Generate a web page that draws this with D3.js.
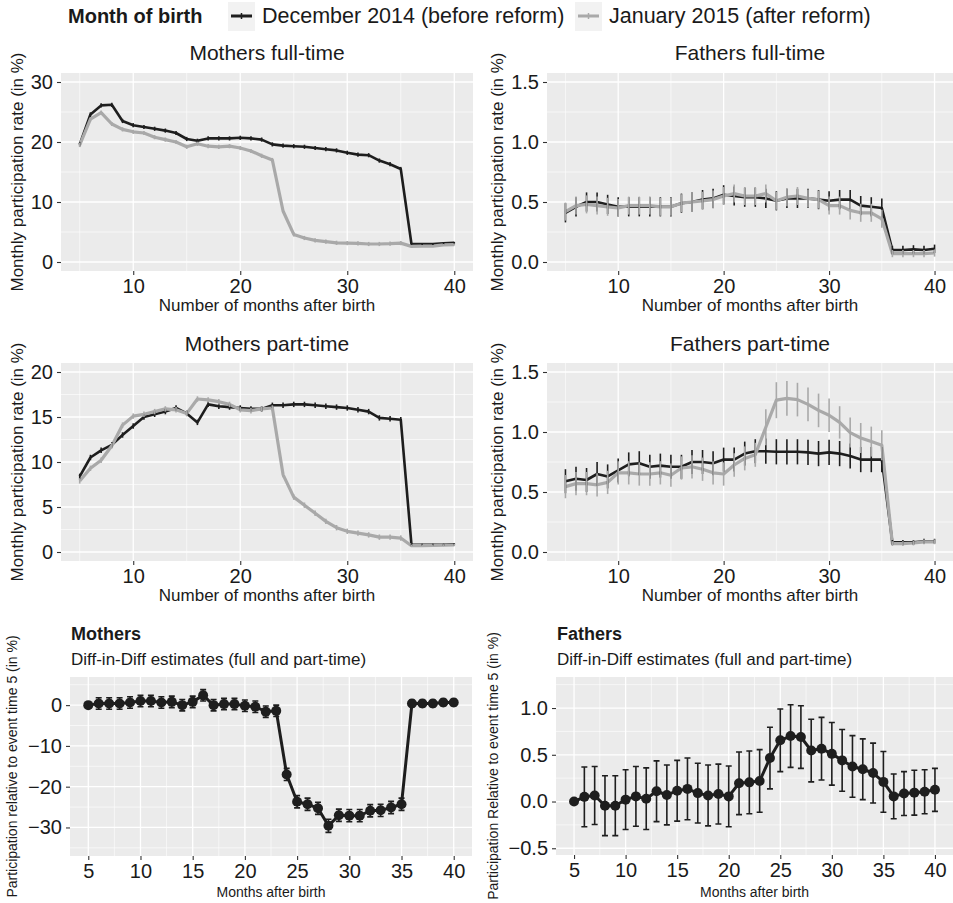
<!DOCTYPE html>
<html>
<head>
<meta charset="UTF-8">
<title>Parental leave participation by month of birth</title>
<style>
  body { margin: 0; background: #fff; }
  svg { display: block; font-family: "Liberation Sans", Arial, Helvetica, sans-serif; }
</style>
</head>
<body>
<svg></svg>
<script src="https://d3js.org/d3.v7.min.js"></script>
<script>

const width = 953, height = 903;

// ---- data ----
const months = [5, 6, 7, 8, 9, 10, 11, 12, 13, 14, 15, 16, 17, 18, 19, 20, 21, 22,
                23, 24, 25, 26, 27, 28, 29, 30, 31, 32, 33, 34, 35, 36, 37, 38, 39, 40];

const seriesNames = ["December 2014 (before reform)", "January 2015 (after reform)"];

// Mothers full-time
const momFullDec = [19.6, 24.6, 26.1, 26.2, 23.5, 22.8, 22.5, 22.2, 21.9, 21.5, 20.5, 20.2, 20.6, 20.6, 20.6, 20.7, 20.6, 20.4,
                    19.6, 19.4, 19.3, 19.2, 19.0, 18.8, 18.6, 18.2, 17.9, 17.8, 16.9, 16.3, 15.5, 3.0, 3.0, 3.0, 3.1, 3.2];
const momFullJan = [19.5, 23.8, 24.9, 23.0, 22.1, 21.7, 21.5, 20.8, 20.4, 20.0, 19.2, 19.7, 19.3, 19.2, 19.3, 19.0, 18.5, 17.7,
                    17.0, 8.5, 4.6, 4.0, 3.6, 3.4, 3.2, 3.15, 3.1, 3.0, 3.0, 3.05, 3.15, 2.6, 2.65, 2.65, 2.85, 2.9];
const momFullSe  = [0.35, 0.35, 0.35, 0.35, 0.35, 0.35, 0.35, 0.35, 0.35, 0.35, 0.35, 0.35, 0.35, 0.35, 0.35, 0.35, 0.35, 0.35,
                    0.35, 0.35, 0.35, 0.35, 0.35, 0.35, 0.35, 0.35, 0.35, 0.35, 0.35, 0.35, 0.35, 0.15, 0.15, 0.15, 0.15, 0.15];

// Fathers full-time
const dadFullDec = [0.41, 0.46, 0.50, 0.50, 0.48, 0.46, 0.46, 0.46, 0.46, 0.46, 0.46, 0.49, 0.50, 0.52, 0.53, 0.56, 0.55, 0.54,
                    0.54, 0.53, 0.51, 0.53, 0.53, 0.53, 0.52, 0.51, 0.52, 0.52, 0.47, 0.46, 0.45, 0.10, 0.10, 0.105, 0.10, 0.11];
const dadFullJan = [0.42, 0.47, 0.48, 0.47, 0.46, 0.45, 0.47, 0.47, 0.47, 0.46, 0.46, 0.49, 0.50, 0.51, 0.52, 0.55, 0.57, 0.55,
                    0.55, 0.57, 0.51, 0.54, 0.55, 0.53, 0.52, 0.47, 0.47, 0.43, 0.41, 0.41, 0.36, 0.07, 0.07, 0.07, 0.07, 0.075];
const dadFullDecSe = [0.08, 0.08, 0.08, 0.08, 0.08, 0.08, 0.08, 0.08, 0.08, 0.08, 0.08, 0.08, 0.08, 0.08, 0.08, 0.08, 0.08, 0.08,
                      0.08, 0.08, 0.08, 0.08, 0.08, 0.08, 0.08, 0.08, 0.08, 0.08, 0.08, 0.08, 0.08, 0.035, 0.035, 0.035, 0.035, 0.035];
const dadFullJanSe = [0.075, 0.075, 0.075, 0.075, 0.075, 0.075, 0.075, 0.075, 0.075, 0.075, 0.075, 0.075, 0.075, 0.075, 0.075, 0.075, 0.075, 0.075,
                      0.075, 0.075, 0.075, 0.075, 0.075, 0.075, 0.075, 0.075, 0.075, 0.075, 0.075, 0.075, 0.075, 0.03, 0.03, 0.03, 0.03, 0.03];

// Mothers part-time
const momPartDec = [8.4, 10.5, 11.3, 11.9, 13.0, 14.0, 15.0, 15.3, 15.6, 16.0, 15.4, 14.4, 16.4, 16.2, 16.1, 16.0, 15.9, 15.9,
                    16.3, 16.3, 16.4, 16.4, 16.3, 16.2, 16.1, 16.0, 15.8, 15.6, 14.9, 14.8, 14.7, 0.8, 0.8, 0.8, 0.8, 0.85];
const momPartJan = [7.9, 9.3, 10.2, 11.8, 14.1, 15.1, 15.3, 15.6, 15.9, 15.8, 15.4, 17.0, 16.9, 16.7, 16.4, 15.8, 15.7, 15.9,
                    16.0, 8.6, 6.1, 5.2, 4.3, 3.4, 2.7, 2.3, 2.1, 1.9, 1.65, 1.65, 1.55, 0.7, 0.7, 0.72, 0.75, 0.78];
const momPartSe  = [0.3, 0.3, 0.3, 0.3, 0.3, 0.3, 0.3, 0.3, 0.3, 0.3, 0.3, 0.3, 0.3, 0.3, 0.3, 0.3, 0.3, 0.3,
                    0.3, 0.3, 0.3, 0.3, 0.3, 0.3, 0.3, 0.3, 0.3, 0.3, 0.3, 0.3, 0.3, 0.12, 0.12, 0.12, 0.12, 0.12];

// Fathers part-time
const dadPartDec = [0.59, 0.61, 0.60, 0.65, 0.63, 0.68, 0.73, 0.74, 0.71, 0.72, 0.71, 0.71, 0.75, 0.75, 0.74, 0.77, 0.77, 0.82,
                    0.84, 0.84, 0.835, 0.835, 0.835, 0.83, 0.82, 0.83, 0.82, 0.80, 0.77, 0.77, 0.77, 0.08, 0.08, 0.08, 0.09, 0.09];
const dadPartJan = [0.545, 0.57, 0.57, 0.56, 0.58, 0.66, 0.66, 0.65, 0.65, 0.66, 0.64, 0.70, 0.71, 0.69, 0.66, 0.65, 0.725, 0.78,
                    0.81, 1.04, 1.265, 1.28, 1.27, 1.23, 1.18, 1.14, 1.08, 0.995, 0.95, 0.92, 0.89, 0.07, 0.07, 0.075, 0.085, 0.085];
const dadPartDecSe = [0.1, 0.1, 0.1, 0.1, 0.1, 0.1, 0.1, 0.1, 0.1, 0.1, 0.1, 0.1, 0.1, 0.1, 0.1, 0.1, 0.1, 0.1,
                      0.1, 0.105, 0.105, 0.105, 0.105, 0.105, 0.105, 0.105, 0.105, 0.105, 0.105, 0.105, 0.105, 0.02, 0.02, 0.02, 0.02, 0.02];
const dadPartJanSe = [0.097, 0.097, 0.097, 0.097, 0.097, 0.097, 0.097, 0.097, 0.097, 0.097, 0.097, 0.097, 0.097, 0.097, 0.097, 0.097, 0.097, 0.1,
                      0.1, 0.15, 0.15, 0.145, 0.14, 0.14, 0.14, 0.14, 0.135, 0.125, 0.125, 0.125, 0.125, 0.02, 0.02, 0.02, 0.02, 0.02];

// Diff-in-diff estimates
const momDid   = [0, 0.4, 0.4, 0.4, 0.65, 1.0, 1.0, 0.65, 0.8, 0, 0.8, 2.4, 0, 0.25, 0.25, -0.15, -0.4, -1.6,
                  -1.4, -17.0, -23.7, -24.3, -25.3, -29.6, -27.0, -27.1, -27.1, -25.9, -25.8, -25.1, -24.3, 0.4, 0.4, 0.4, 0.65, 0.65];
const momDidSe = [0, 1.4, 1.4, 1.4, 1.4, 1.4, 1.4, 1.4, 1.4, 1.4, 1.4, 1.4, 1.4, 1.4, 1.4, 1.4, 1.4, 1.4,
                  1.4, 1.5, 1.5, 1.5, 1.5, 1.6, 1.5, 1.5, 1.5, 1.5, 1.5, 1.5, 1.5, 0.8, 0.8, 0.8, 0.8, 0.8];
const dadDid   = [0.0, 0.05, 0.065, -0.045, -0.045, 0.02, 0.055, 0.03, 0.11, 0.07, 0.115, 0.135, 0.09, 0.065, 0.08, 0.055, 0.195, 0.205,
                  0.22, 0.465, 0.655, 0.70, 0.69, 0.545, 0.565, 0.51, 0.44, 0.375, 0.345, 0.305, 0.21, 0.055, 0.085, 0.095, 0.105, 0.125];
const dadDidSe = [0, 0.32, 0.31, 0.32, 0.32, 0.32, 0.32, 0.33, 0.325, 0.32, 0.325, 0.33, 0.32, 0.325, 0.32, 0.325, 0.335, 0.335,
                  0.335, 0.33, 0.335, 0.335, 0.335, 0.335, 0.335, 0.335, 0.33, 0.33, 0.325, 0.32, 0.325, 0.24, 0.235, 0.24, 0.235, 0.23];

// ---- style ----
const darkCol = "#1e1e1e", lightCol = "#a9a9a9";
const panelBg = "#ebebeb";

let svg = d3.select("svg")
  .attr("width", width)
  .attr("height", height)
  .attr("viewBox", "0 0 " + width + " " + height);

// draws background, grid, axes and titles; returns the scales
function drawPanel(p) {
  const g = svg.append("g");
  const x = d3.scaleLinear().domain(p.xDomain).range([p.left, p.right]);
  const y = d3.scaleLinear().domain(p.yDomain).range([p.bottom, p.top]);

  g.append("rect")
    .attr("x", p.left).attr("y", p.top)
    .attr("width", p.right - p.left).attr("height", p.bottom - p.top)
    .attr("fill", panelBg);

  // minor grid = midpoints between major breaks (plus one step outside)
  const minor = (ticks, dom) => {
    const step = ticks[1] - ticks[0];
    const out = [];
    for (let i = -1; i < ticks.length; i++) {
      const v = ticks[0] + step * (i + 0.5);
      if (v > dom[0] && v < dom[1]) out.push(v);
    }
    return out;
  };
  const xMin = minor(p.xTicks, p.xDomain), yMin = minor(p.yTicks, p.yDomain);

  g.selectAll(".vminor").data(xMin).enter().append("line")
    .attr("x1", d => x(d)).attr("x2", d => x(d)).attr("y1", p.top).attr("y2", p.bottom)
    .attr("stroke", "#fff").attr("stroke-width", 0.6);
  g.selectAll(".hminor").data(yMin).enter().append("line")
    .attr("y1", d => y(d)).attr("y2", d => y(d)).attr("x1", p.left).attr("x2", p.right)
    .attr("stroke", "#fff").attr("stroke-width", 0.6);
  g.selectAll(".vmajor").data(p.xTicks).enter().append("line")
    .attr("x1", d => x(d)).attr("x2", d => x(d)).attr("y1", p.top).attr("y2", p.bottom)
    .attr("stroke", "#fff").attr("stroke-width", 1.3);
  g.selectAll(".hmajor").data(p.yTicks).enter().append("line")
    .attr("y1", d => y(d)).attr("y2", d => y(d)).attr("x1", p.left).attr("x2", p.right)
    .attr("stroke", "#fff").attr("stroke-width", 1.3);

  const xAxis = g.append("g")
    .attr("transform", "translate(0," + p.bottom + ")")
    .call(d3.axisBottom(x).tickValues(p.xTicks).tickSize(4).tickPadding(4).tickFormat(d3.format("d")));
  const yAxis = g.append("g")
    .attr("transform", "translate(" + p.left + ",0)")
    .call(d3.axisLeft(y).tickValues(p.yTicks).tickSize(4).tickPadding(4).tickFormat(d3.format(p.yFormat)));
  [xAxis, yAxis].forEach(a => {
    a.select(".domain").remove();
    a.selectAll(".tick line").attr("stroke", "#333").attr("stroke-width", 1.1);
    a.selectAll(".tick text")
      .attr("fill", "#1a1a1a")
      .style("font-size", "20px")
      .style("font-family", "'Liberation Sans', Arial, sans-serif");
  });

  // axis titles
  g.append("text")
    .attr("x", (p.left + p.right) / 2).attr("y", p.xTitleY)
    .attr("text-anchor", "middle")
    .style("font-size", p.axisTitleSize + "px")
    .attr("fill", "#1a1a1a")
    .text(p.xTitle);
  g.append("text")
    .attr("transform", "translate(" + p.yTitleX + "," + ((p.top + p.bottom) / 2) + ") rotate(-90)")
    .attr("text-anchor", "middle")
    .style("font-size", p.yTitleSize + "px")
    .attr("fill", "#1a1a1a")
    .text(p.yTitle);

  if (p.title) {
    g.append("text")
      .attr("x", (p.left + p.right) / 2).attr("y", p.titleY)
      .attr("text-anchor", "middle")
      .style("font-size", "21px")
      .attr("fill", "#1a1a1a")
      .text(p.title);
  }
  if (p.boldTitle) {
    g.append("text")
      .attr("x", p.left + 1).attr("y", p.titleY)
      .style("font-size", "18px").style("font-weight", "bold")
      .attr("fill", "#1a1a1a")
      .text(p.boldTitle);
    g.append("text")
      .attr("x", p.left + 1).attr("y", p.titleY + 25)
      .style("font-size", "17px")
      .attr("fill", "#1a1a1a")
      .text(p.subtitle);
  }
  return { g, x, y };
}

// two-group line chart with plain vertical error bars
function drawGroups(panel, groups) {
  const { g, x, y } = panel;
  groups.forEach(s => {
    const line = d3.line().x((d, i) => x(months[i])).y(d => y(d));
    g.append("path")
      .datum(s.values)
      .attr("fill", "none")
      .attr("stroke", s.color)
      .attr("stroke-width", s.width)
      .attr("stroke-linejoin", "round")
      .attr("d", line);
  });
  groups.forEach(s => {
    g.append("g").selectAll("line")
      .data(s.values)
      .enter().append("line")
      .attr("x1", (d, i) => x(months[i])).attr("x2", (d, i) => x(months[i]))
      .attr("y1", (d, i) => y(d - s.se[i])).attr("y2", (d, i) => y(d + s.se[i]))
      .attr("stroke", s.color)
      .attr("stroke-width", 1.6);
  });
}

// point estimates with capped error bars
function drawDid(panel, values, se) {
  const { g, x, y } = panel;
  g.append("g").selectAll("g")
    .data(values)
    .enter().append("path")
    .attr("d", (d, i) => {
      const cx = x(months[i]), lo = y(d - se[i]), hi = y(d + se[i]);
      return "M" + (cx - 3) + "," + hi + "H" + (cx + 3) + "M" + cx + "," + hi + "V" + lo + "M" + (cx - 3) + "," + lo + "H" + (cx + 3);
    })
    .attr("stroke", darkCol)
    .attr("stroke-width", 1.6)
    .attr("fill", "none");
  g.append("path")
    .datum(values)
    .attr("fill", "none")
    .attr("stroke", darkCol)
    .attr("stroke-width", 3)
    .attr("stroke-linejoin", "round")
    .attr("d", d3.line().x((d, i) => x(months[i])).y(d => y(d)));
  g.append("g").selectAll("circle")
    .data(values)
    .enter().append("circle")
    .attr("cx", (d, i) => x(months[i]))
    .attr("cy", d => y(d))
    .attr("r", 5)
    .attr("fill", darkCol);
}

const topX = [3.25, 41.75];
const yLabTop = "Monthly participation rate (in %)";
const xLabTop = "Number of months after birth";

// Mothers full-time
let p1 = drawPanel({
  left: 61, right: 473, top: 73, bottom: 271,
  xDomain: topX, yDomain: [-1.5, 31.5],
  xTicks: [10, 20, 30, 40], yTicks: [0, 10, 20, 30], yFormat: "d",
  xTitle: xLabTop, xTitleY: 311, axisTitleSize: 17,
  yTitle: yLabTop, yTitleX: 23, yTitleSize: 17,
  title: "Mothers full-time", titleY: 60
});
drawGroups(p1, [
  { values: momFullDec, se: momFullSe, color: darkCol, width: 2.6 },
  { values: momFullJan, se: momFullSe, color: lightCol, width: 3.2 }
]);

// Fathers full-time
let p2 = drawPanel({
  left: 547, right: 953, top: 73, bottom: 271,
  xDomain: topX, yDomain: [-0.075, 1.575],
  xTicks: [10, 20, 30, 40], yTicks: [0, 0.5, 1, 1.5], yFormat: ".1f",
  xTitle: xLabTop, xTitleY: 311, axisTitleSize: 17,
  yTitle: yLabTop, yTitleX: 503, yTitleSize: 17,
  title: "Fathers full-time", titleY: 60
});
drawGroups(p2, [
  { values: dadFullDec, se: dadFullDecSe, color: darkCol, width: 2.6 },
  { values: dadFullJan, se: dadFullJanSe, color: lightCol, width: 3.2 }
]);

// Mothers part-time
let p3 = drawPanel({
  left: 61, right: 473, top: 363, bottom: 561,
  xDomain: topX, yDomain: [-1, 21],
  xTicks: [10, 20, 30, 40], yTicks: [0, 5, 10, 15, 20], yFormat: "d",
  xTitle: xLabTop, xTitleY: 601, axisTitleSize: 17,
  yTitle: yLabTop, yTitleX: 23, yTitleSize: 17,
  title: "Mothers part-time", titleY: 351
});
drawGroups(p3, [
  { values: momPartDec, se: momPartSe, color: darkCol, width: 2.6 },
  { values: momPartJan, se: momPartSe, color: lightCol, width: 3.2 }
]);

// Fathers part-time
let p4 = drawPanel({
  left: 547, right: 953, top: 363, bottom: 561,
  xDomain: topX, yDomain: [-0.075, 1.575],
  xTicks: [10, 20, 30, 40], yTicks: [0, 0.5, 1, 1.5], yFormat: ".1f",
  xTitle: xLabTop, xTitleY: 601, axisTitleSize: 17,
  yTitle: yLabTop, yTitleX: 503, yTitleSize: 17,
  title: "Fathers part-time", titleY: 351
});
drawGroups(p4, [
  { values: dadPartDec, se: dadPartDecSe, color: darkCol, width: 2.6 },
  { values: dadPartJan, se: dadPartJanSe, color: lightCol, width: 3.2 }
]);

// Mothers diff-in-diff
let p5 = drawPanel({
  left: 70, right: 472, top: 677, bottom: 856,
  xDomain: topX, yDomain: [-37, 6.9],
  xTicks: [5, 10, 15, 20, 25, 30, 35, 40], yTicks: [-30, -20, -10, 0], yFormat: "d",
  xTitle: "Months after birth", xTitleY: 897, axisTitleSize: 14,
  yTitle: "Participation relative to event time 5 (in %)", yTitleX: 17, yTitleSize: 14,
  boldTitle: "Mothers", subtitle: "Diff-in-Diff estimates (full and part-time)", titleY: 640
});
drawDid(p5, momDid, momDidSe);

// Fathers diff-in-diff
let p6 = drawPanel({
  left: 556, right: 953, top: 677, bottom: 855,
  xDomain: topX, yDomain: [-0.572, 1.332],
  xTicks: [5, 10, 15, 20, 25, 30, 35, 40], yTicks: [-0.5, 0, 0.5, 1], yFormat: ".1f",
  xTitle: "Months after birth", xTitleY: 897, axisTitleSize: 14,
  yTitle: "Participation Relative to event time 5 (in %)", yTitleX: 498, yTitleSize: 14,
  boldTitle: "Fathers", subtitle: "Diff-in-Diff estimates (full and part-time)", titleY: 640
});
drawDid(p6, dadDid, dadDidSe);

// ---- legend ----
let legend = svg.append("g");
legend.append("text")
  .attr("x", 68).attr("y", 23)
  .style("font-size", "20px").style("font-weight", "bold")
  .attr("fill", "#1a1a1a")
  .text("Month of birth");
const legendItems = [
  { name: seriesNames[0], color: darkCol, keyX: 228, textX: 262 },
  { name: seriesNames[1], color: lightCol, keyX: 575, textX: 609 }
];
legendItems.forEach(it => {
  legend.append("rect")
    .attr("x", it.keyX).attr("y", 2).attr("width", 27).attr("height", 29)
    .attr("fill", "#f2f2f2");
  legend.append("line")
    .attr("x1", it.keyX + 3).attr("x2", it.keyX + 24).attr("y1", 16).attr("y2", 16)
    .attr("stroke", it.color).attr("stroke-width", 3);
  legend.append("line")
    .attr("x1", it.keyX + 13.5).attr("x2", it.keyX + 13.5).attr("y1", 13).attr("y2", 19)
    .attr("stroke", it.color).attr("stroke-width", 1.5);
  legend.append("text")
    .attr("x", it.textX).attr("y", 23)
    .style("font-size", "21.5px")
    .attr("fill", "#1a1a1a")
    .text(it.name);
});

</script>
</body>
</html>
